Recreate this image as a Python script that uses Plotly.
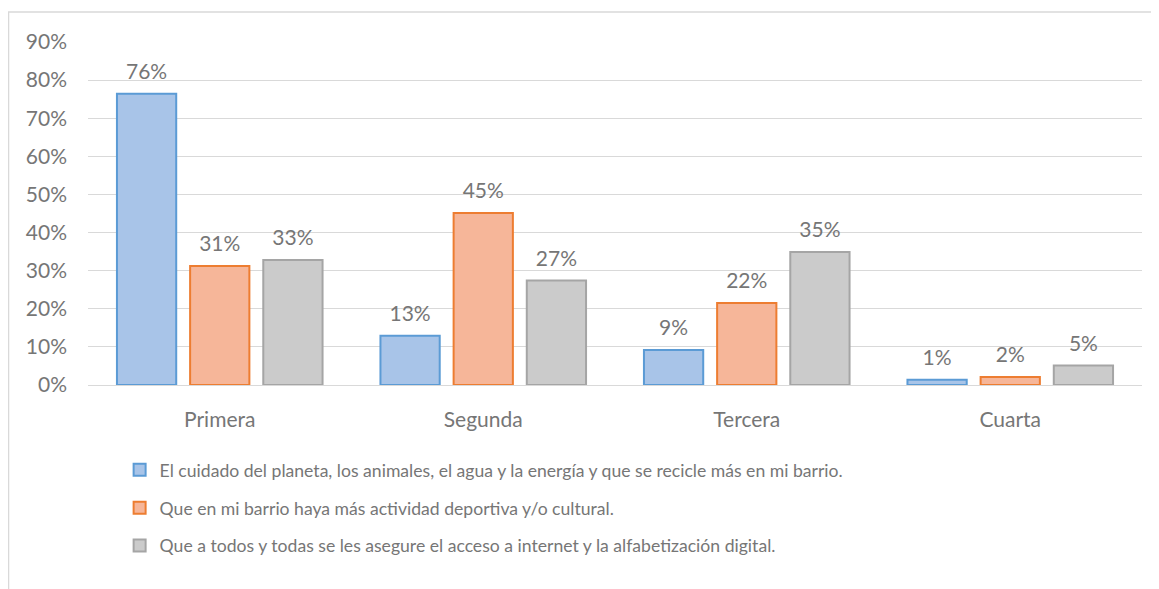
import plotly.graph_objects as go

categories = ["Primera", "Segunda", "Tercera", "Cuarta"]
series_names = [
    "El cuidado del planeta, los animales, el agua y la energía y que se recicle más en mi barrio.",
    "Que en mi barrio haya más actividad deportiva y/o cultural.",
    "Que a todos y todas se les asegure el acceso a internet y la alfabetización digital.",
]
cuidado = [0.764, 0.129, 0.092, 0.014]
deporte = [0.312, 0.451, 0.215, 0.021]
internet = [0.328, 0.274, 0.349, 0.051]
tick_vals = [0, 0.1, 0.2, 0.3, 0.4, 0.5, 0.6, 0.7, 0.8, 0.9]
tick_text = ["0%", "10%", "20%", "30%", "40%", "50%", "60%", "70%", "80%", "90%"]

fills = ["#a8c4e8", "#f6b699", "#cbcbcb"]
lines = ["#5b9bd5", "#ed7d31", "#a5a5a5"]
FONT = "Lato"
FS = 17.6
AXFS = 21
TXT = "#767676"

fig = go.Figure()
all_vals = [cuidado, deporte, internet]
for i, (name, vals) in enumerate(zip(series_names, all_vals)):
    fig.add_trace(go.Bar(
        x=categories, y=vals, name=name,
        marker=dict(color=fills[i], line=dict(color=lines[i], width=2)),
        offsetgroup=f"s{i}", legendgroup=f"g{i}",
    ))
for i, vals in enumerate(all_vals):
    fig.add_trace(go.Scatter(
        x=categories, y=vals, mode="markers+text",
        marker=dict(size=14, opacity=0),
        texttemplate="%{y:.0%}", textposition="top center",
        textfont=dict(family=FONT, size=AXFS, color=TXT),
        offsetgroup=f"s{i}", showlegend=False, hoverinfo="skip",
        cliponaxis=False,
    ))

fig.update_layout(
    width=1159, height=589,
    margin=dict(l=80, r=25, t=34, b=212),
    paper_bgcolor="white", plot_bgcolor="white",
    barmode="group", bargap=0.167, bargroupgap=0.19,
    scattermode="group", scattergap=0.167,
    font=dict(family=FONT, size=FS, color=TXT),
    showlegend=True,
    legend=dict(
        x=0.030, xanchor="left", y=-0.195, yanchor="top",
        orientation="v", tracegroupgap=12,
        font=dict(family=FONT, size=FS, color=TXT),
        itemsizing="constant",
    ),
    xaxis=dict(showline=True, linecolor="#d9d9d9", linewidth=1, ticks="",
               tickfont=dict(family=FONT, size=AXFS, color=TXT), ticklabelstandoff=16),
    yaxis=dict(range=[0, 0.9], tickvals=tick_vals, ticktext=tick_text,
               showgrid=True, gridcolor="#d9d9d9", gridwidth=1, zeroline=False,
               tickfont=dict(family=FONT, size=AXFS, color=TXT), ticklabelstandoff=20),
    shapes=[dict(type="rect", xref="paper", yref="paper",
                 x0=-0.0754, x1=1.2, y0=-1.0, y1=1.0875,
                 line=dict(color="#d9d9d9", width=1.5), fillcolor="rgba(0,0,0,0)", layer="below")],
)

fig.write_html("out.html")
